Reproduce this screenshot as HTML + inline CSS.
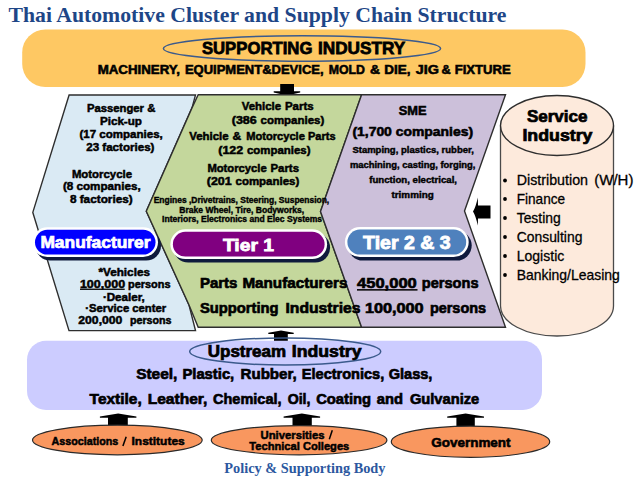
<!DOCTYPE html>
<html><head><meta charset="utf-8"><style>
html,body{margin:0;padding:0;background:#fff;width:640px;height:479px;overflow:hidden}
svg{display:block}
</style></head><body>
<svg width="640" height="479" viewBox="0 0 640 479">
<rect x="22.2" y="29.4" width="563.3" height="57.6" rx="23" ry="23" fill="#FEC863"/>
<ellipse cx="302" cy="48.5" rx="138.6" ry="12.75" fill="none" stroke="#3B5A8C" stroke-width="1.5"/>
<path d="M280.2,84 L294,84 L294,91.2 L300.2,91.2 L300.2,92.6 L286.95,95.5 L273.7,92.6 L273.7,91.2 L280.2,91.2 Z" fill="#000"/>
<polygon points="69.1,95 195.5,95 192.1,107.6 146.3,211.2 189,305 195.5,330.6 69,330.6 32.8,212.4" fill="#DAEAF4" stroke="#2e2e2e" stroke-width="1.4"/>
<polygon points="198.2,94.7 361.6,94.7 320.5,211.5 361.6,327.2 198.2,327.2 189,305 146.3,211.2 192.1,107.6" fill="#C4D79C" stroke="#2e2e2e" stroke-width="1.4"/>
<polygon points="361.6,94.7 505.5,94.7 464.5,211 505.5,327.2 361.6,327.2 320.5,211.5" fill="#CCC0DA" stroke="#2e2e2e" stroke-width="1.4"/>
<path d="M473,211.5 Q475.8,207 477.8,197.5 L478,205.4 L490.5,205.4 L490.5,218.4 L478,218.4 L477.8,225.6 Q475.8,216 473,211.5 Z" fill="#000"/>
<path d="M500.5,125.5 L500.5,306 A56.5,30 0 0 0 613.5,306 L613.5,125.5" fill="#FDEADC" stroke="#4a4a4a" stroke-width="1.3"/>
<ellipse cx="557" cy="125.5" rx="56.5" ry="30" fill="#FDEADC" stroke="#2e2e2e" stroke-width="1.4"/>
<circle cx="505" cy="180.5" r="1.9" fill="#000"/>
<circle cx="505" cy="199" r="1.9" fill="#000"/>
<circle cx="505" cy="218" r="1.9" fill="#000"/>
<circle cx="505" cy="237" r="1.9" fill="#000"/>
<circle cx="505" cy="256" r="1.9" fill="#000"/>
<circle cx="505" cy="275" r="1.9" fill="#000"/>
<rect x="35.5" y="230.8" width="125.5" height="29.69999999999999" rx="14.849999999999994" fill="#0F1A3C"/><rect x="32.5" y="227.3" width="125.5" height="29.69999999999999" rx="14.849999999999994" fill="#fff"/><rect x="35.0" y="229.8" width="120.5" height="24.69999999999999" rx="12.349999999999994" fill="#0000FF"/>
<rect x="173.4" y="232.8" width="156.70000000000002" height="29.80000000000001" rx="14.900000000000006" fill="#0F1A3C"/><rect x="170.4" y="229.3" width="156.70000000000002" height="29.80000000000001" rx="14.900000000000006" fill="#fff"/><rect x="172.9" y="231.8" width="151.70000000000002" height="24.80000000000001" rx="12.400000000000006" fill="#800080"/>
<rect x="347.9" y="230.5" width="123.80000000000001" height="30.100000000000023" rx="15.050000000000011" fill="#0F1A3C"/><rect x="344.9" y="227" width="123.80000000000001" height="30.100000000000023" rx="15.050000000000011" fill="#fff"/><rect x="347.4" y="229.5" width="118.80000000000001" height="25.100000000000023" rx="12.550000000000011" fill="#4F81BD"/>
<rect x="80" y="288.6" width="44.7" height="1.3" fill="#000"/>
<rect x="357" y="289.1" width="60.5" height="1.5" fill="#000"/>
<path d="M274,341 L287.8,341 L287.8,334.1 L293.7,334.1 L293.7,332.7 L281.0,330.5 L268.3,332.7 L268.3,334.1 L274,334.1 Z" fill="#000"/>
<rect x="27" y="340.7" width="515" height="69.2" rx="19" ry="19" fill="#CCCCFF"/>
<ellipse cx="285.2" cy="351.5" rx="95.5" ry="13.5" fill="none" stroke="#3B5A8C" stroke-width="1.5"/>
<path d="M108,425.5 L127.8,425.5 L127.8,417.8 L136.4,417.8 L136.4,416.4 L118.15,413.6 L99.9,416.4 L99.9,417.8 L108,417.8 Z" fill="#000"/>
<path d="M292.5,426 L311.8,426 L311.8,417.8 L320.1,417.8 L320.1,416.4 L301.85,413.6 L283.6,416.4 L283.6,417.8 L292.5,417.8 Z" fill="#000"/>
<path d="M456.4,427 L474.8,427 L474.8,417.8 L484,417.8 L484,416.4 L465.6,413.6 L447.2,416.4 L447.2,417.8 L456.4,417.8 Z" fill="#000"/>
<ellipse cx="117.35" cy="440" rx="84.85" ry="14.8" fill="#F9975F" stroke="#2a2a2a" stroke-width="1.2"/>
<ellipse cx="299.1" cy="440.2" rx="87.8" ry="14.6" fill="#F9975F" stroke="#2a2a2a" stroke-width="1.2"/>
<ellipse cx="470.5" cy="441.7" rx="79.2" ry="15.6" fill="#F9975F" stroke="#2a2a2a" stroke-width="1.2"/>
<text x="8.5" y="21.6" font-size="21.5" fill="#1E4687" font-weight="bold" font-family='"Liberation Serif", serif' textLength="497.90" lengthAdjust="spacingAndGlyphs">Thai Automotive Cluster and Supply Chain Structure</text>
<text x="201.9" y="54.3" font-size="16.9" fill="#000" stroke="#000" stroke-width="0.76" font-weight="bold" font-family='"Liberation Sans", sans-serif' textLength="110.50" lengthAdjust="spacingAndGlyphs">SUPPORTING</text>
<text x="318.0" y="54.3" font-size="16.9" fill="#000" stroke="#000" stroke-width="0.76" font-weight="bold" font-family='"Liberation Sans", sans-serif' textLength="87.20" lengthAdjust="spacingAndGlyphs">INDUSTRY</text>
<text x="97.65" y="73.6" font-size="12.2" fill="#000" stroke="#000" stroke-width="0.55" font-weight="bold" font-family='"Liberation Sans", sans-serif' textLength="82.25" lengthAdjust="spacingAndGlyphs">MACHINERY,</text>
<text x="184.9" y="73.6" font-size="12.2" fill="#000" stroke="#000" stroke-width="0.55" font-weight="bold" font-family='"Liberation Sans", sans-serif' textLength="138.70" lengthAdjust="spacingAndGlyphs">EQUIPMENT&amp;DEVICE,</text>
<text x="328.65" y="73.6" font-size="12.2" fill="#000" stroke="#000" stroke-width="0.55" font-weight="bold" font-family='"Liberation Sans", sans-serif' textLength="36.25" lengthAdjust="spacingAndGlyphs">MOLD</text>
<text x="369.9" y="73.6" font-size="12.2" fill="#000" stroke="#000" stroke-width="0.55" font-weight="bold" font-family='"Liberation Sans", sans-serif' textLength="10.00" lengthAdjust="spacingAndGlyphs">&amp;</text>
<text x="384.29999999999995" y="73.6" font-size="12.2" fill="#000" stroke="#000" stroke-width="0.55" font-weight="bold" font-family='"Liberation Sans", sans-serif' textLength="26.20" lengthAdjust="spacingAndGlyphs">DIE,</text>
<text x="415.7" y="73.6" font-size="12.2" fill="#000" stroke="#000" stroke-width="0.55" font-weight="bold" font-family='"Liberation Sans", sans-serif' textLength="23.20" lengthAdjust="spacingAndGlyphs">JIG</text>
<text x="441.5" y="73.6" font-size="12.2" fill="#000" stroke="#000" stroke-width="0.55" font-weight="bold" font-family='"Liberation Sans", sans-serif' textLength="9.20" lengthAdjust="spacingAndGlyphs">&amp;</text>
<text x="454.7" y="73.6" font-size="12.2" fill="#000" stroke="#000" stroke-width="0.55" font-weight="bold" font-family='"Liberation Sans", sans-serif' textLength="56.10" lengthAdjust="spacingAndGlyphs">FIXTURE</text>
<text x="86.9" y="112" font-size="11" fill="#000" stroke="#000" stroke-width="0.49" font-weight="bold" font-family='"Liberation Sans", sans-serif' textLength="68.40" lengthAdjust="spacingAndGlyphs">Passenger &amp;</text>
<text x="99.9" y="125.1" font-size="11" fill="#000" stroke="#000" stroke-width="0.49" font-weight="bold" font-family='"Liberation Sans", sans-serif' textLength="42.10" lengthAdjust="spacingAndGlyphs">Pick-up</text>
<text x="79.5" y="138.1" font-size="11" fill="#000" stroke="#000" stroke-width="0.49" font-weight="bold" font-family='"Liberation Sans", sans-serif' textLength="83.30" lengthAdjust="spacingAndGlyphs">(17 companies,</text>
<text x="86.2" y="150.6" font-size="11" fill="#000" stroke="#000" stroke-width="0.49" font-weight="bold" font-family='"Liberation Sans", sans-serif' textLength="68.30" lengthAdjust="spacingAndGlyphs">23 factories)</text>
<text x="71.9" y="177.7" font-size="11" fill="#000" stroke="#000" stroke-width="0.49" font-weight="bold" font-family='"Liberation Sans", sans-serif' textLength="60.10" lengthAdjust="spacingAndGlyphs">Motorcycle</text>
<text x="62.9" y="189.7" font-size="11" fill="#000" stroke="#000" stroke-width="0.49" font-weight="bold" font-family='"Liberation Sans", sans-serif' textLength="77.80" lengthAdjust="spacingAndGlyphs">(8 companies,</text>
<text x="69.9" y="202.8" font-size="11" fill="#000" stroke="#000" stroke-width="0.49" font-weight="bold" font-family='"Liberation Sans", sans-serif' textLength="62.80" lengthAdjust="spacingAndGlyphs">8 factories)</text>
<text x="98.5" y="275.8" font-size="10.6" fill="#000" stroke="#000" stroke-width="0.48" font-weight="bold" font-family='"Liberation Sans", sans-serif' textLength="51.40" lengthAdjust="spacingAndGlyphs">*Vehicles</text>
<text x="79.9" y="287.6" font-size="10.6" fill="#000" stroke="#000" stroke-width="0.48" font-weight="bold" font-family='"Liberation Sans", sans-serif' textLength="45.30" lengthAdjust="spacingAndGlyphs">100,000</text>
<text x="128.0" y="287.6" font-size="10.6" fill="#000" stroke="#000" stroke-width="0.48" font-weight="bold" font-family='"Liberation Sans", sans-serif' textLength="42.50" lengthAdjust="spacingAndGlyphs">persons</text>
<text x="102.9" y="300.6" font-size="10.6" fill="#000" stroke="#000" stroke-width="0.48" font-weight="bold" font-family='"Liberation Sans", sans-serif' textLength="41.90" lengthAdjust="spacingAndGlyphs">&#183;Dealer,</text>
<text x="85.30000000000001" y="312.4" font-size="10.6" fill="#000" stroke="#000" stroke-width="0.48" font-weight="bold" font-family='"Liberation Sans", sans-serif' textLength="80.80" lengthAdjust="spacingAndGlyphs">&#183;Service center</text>
<text x="78.30000000000001" y="324.2" font-size="10.6" fill="#000" stroke="#000" stroke-width="0.48" font-weight="bold" font-family='"Liberation Sans", sans-serif' textLength="44.10" lengthAdjust="spacingAndGlyphs">200,000</text>
<text x="129.9" y="324.2" font-size="10.6" fill="#000" stroke="#000" stroke-width="0.48" font-weight="bold" font-family='"Liberation Sans", sans-serif' textLength="41.70" lengthAdjust="spacingAndGlyphs">persons</text>
<text x="241.8" y="109.9" font-size="11.3" fill="#000" stroke="#000" stroke-width="0.51" font-weight="bold" font-family='"Liberation Sans", sans-serif' textLength="39.30" lengthAdjust="spacingAndGlyphs">Vehicle</text>
<text x="284.9" y="109.9" font-size="11.3" fill="#000" stroke="#000" stroke-width="0.51" font-weight="bold" font-family='"Liberation Sans", sans-serif' textLength="28.70" lengthAdjust="spacingAndGlyphs">Parts</text>
<text x="231.8" y="123.75" font-size="11.3" fill="#000" stroke="#000" stroke-width="0.51" font-weight="bold" font-family='"Liberation Sans", sans-serif' textLength="24.95" lengthAdjust="spacingAndGlyphs">(386</text>
<text x="260.5" y="123.75" font-size="11.3" fill="#000" stroke="#000" stroke-width="0.51" font-weight="bold" font-family='"Liberation Sans", sans-serif' textLength="63.75" lengthAdjust="spacingAndGlyphs">companies)</text>
<text x="189.3" y="140.3" font-size="11.3" fill="#000" stroke="#000" stroke-width="0.51" font-weight="bold" font-family='"Liberation Sans", sans-serif' textLength="39.30" lengthAdjust="spacingAndGlyphs">Vehicle</text>
<text x="232.4" y="140.3" font-size="11.3" fill="#000" stroke="#000" stroke-width="0.51" font-weight="bold" font-family='"Liberation Sans", sans-serif' textLength="8.70" lengthAdjust="spacingAndGlyphs">&amp;</text>
<text x="246.15" y="140.3" font-size="11.3" fill="#000" stroke="#000" stroke-width="0.51" font-weight="bold" font-family='"Liberation Sans", sans-serif' textLength="58.75" lengthAdjust="spacingAndGlyphs">Motorcycle</text>
<text x="308.0" y="140.3" font-size="11.3" fill="#000" stroke="#000" stroke-width="0.51" font-weight="bold" font-family='"Liberation Sans", sans-serif' textLength="27.50" lengthAdjust="spacingAndGlyphs">Parts</text>
<text x="218.3" y="153.75" font-size="11.3" fill="#000" stroke="#000" stroke-width="0.51" font-weight="bold" font-family='"Liberation Sans", sans-serif' textLength="24.95" lengthAdjust="spacingAndGlyphs">(122</text>
<text x="247.0" y="153.75" font-size="11.3" fill="#000" stroke="#000" stroke-width="0.51" font-weight="bold" font-family='"Liberation Sans", sans-serif' textLength="63.50" lengthAdjust="spacingAndGlyphs">companies)</text>
<text x="207.4" y="171.6" font-size="11.3" fill="#000" stroke="#000" stroke-width="0.51" font-weight="bold" font-family='"Liberation Sans", sans-serif' textLength="59.35" lengthAdjust="spacingAndGlyphs">Motorcycle</text>
<text x="270.5" y="171.6" font-size="11.3" fill="#000" stroke="#000" stroke-width="0.51" font-weight="bold" font-family='"Liberation Sans", sans-serif' textLength="28.50" lengthAdjust="spacingAndGlyphs">Parts</text>
<text x="206.8" y="185" font-size="11.3" fill="#000" stroke="#000" stroke-width="0.51" font-weight="bold" font-family='"Liberation Sans", sans-serif' textLength="24.95" lengthAdjust="spacingAndGlyphs">(201</text>
<text x="235.5" y="185" font-size="11.3" fill="#000" stroke="#000" stroke-width="0.51" font-weight="bold" font-family='"Liberation Sans", sans-serif' textLength="63.75" lengthAdjust="spacingAndGlyphs">companies)</text>
<text x="153.65" y="202.5" font-size="8.2" fill="#000" stroke="#000" stroke-width="0.37" font-weight="bold" font-family='"Liberation Sans", sans-serif' textLength="175.60" lengthAdjust="spacingAndGlyphs">Engines ,Drivetrains, Steering, Suspension,</text>
<text x="179.3" y="212.5" font-size="8.2" fill="#000" stroke="#000" stroke-width="0.37" font-weight="bold" font-family='"Liberation Sans", sans-serif' textLength="124.95" lengthAdjust="spacingAndGlyphs">Brake Wheel, Tire, Bodyworks,</text>
<text x="162.1" y="222.2" font-size="8.2" fill="#000" stroke="#000" stroke-width="0.37" font-weight="bold" font-family='"Liberation Sans", sans-serif' textLength="160.00" lengthAdjust="spacingAndGlyphs">Interiors, Electronics and Elec Systems</text>
<text x="398.7" y="114.5" font-size="12.2" fill="#000" stroke="#000" stroke-width="0.55" font-weight="bold" font-family='"Liberation Sans", sans-serif' textLength="27.80" lengthAdjust="spacingAndGlyphs">SME</text>
<text x="352.4" y="135.8" font-size="12.2" fill="#000" stroke="#000" stroke-width="0.55" font-weight="bold" font-family='"Liberation Sans", sans-serif' textLength="120.70" lengthAdjust="spacingAndGlyphs">(1,700 companies)</text>
<text x="352.4" y="152.7" font-size="9.5" fill="#000" stroke="#000" stroke-width="0.43" font-weight="bold" font-family='"Liberation Sans", sans-serif' textLength="121.40" lengthAdjust="spacingAndGlyphs">Stamping, plastics, rubber,</text>
<text x="349.9" y="167.6" font-size="9.5" fill="#000" stroke="#000" stroke-width="0.43" font-weight="bold" font-family='"Liberation Sans", sans-serif' textLength="125.60" lengthAdjust="spacingAndGlyphs">machining, casting, forging,</text>
<text x="369.2" y="182.6" font-size="9.5" fill="#000" stroke="#000" stroke-width="0.43" font-weight="bold" font-family='"Liberation Sans", sans-serif' textLength="87.80" lengthAdjust="spacingAndGlyphs">function, electrical,</text>
<text x="391.5" y="197.6" font-size="9.5" fill="#000" stroke="#000" stroke-width="0.43" font-weight="bold" font-family='"Liberation Sans", sans-serif' textLength="42.20" lengthAdjust="spacingAndGlyphs">trimming</text>
<text x="40.4" y="248" font-size="16" fill="#fff" stroke="#fff" stroke-width="0.72" font-weight="bold" font-family='"Liberation Sans", sans-serif' textLength="110.10" lengthAdjust="spacingAndGlyphs">Manufacturer</text>
<text x="222.9" y="250.6" font-size="16.8" fill="#fff" stroke="#fff" stroke-width="0.76" font-weight="bold" font-family='"Liberation Sans", sans-serif' textLength="51.10" lengthAdjust="spacingAndGlyphs">Tier 1</text>
<text x="363.09999999999997" y="249" font-size="18" fill="#fff" stroke="#fff" stroke-width="0.81" font-weight="bold" font-family='"Liberation Sans", sans-serif' textLength="87.40" lengthAdjust="spacingAndGlyphs">Tier 2 &amp; 3</text>
<text x="199.9" y="287.7" font-size="14.5" fill="#000" stroke="#000" stroke-width="0.65" font-weight="bold" font-family='"Liberation Sans", sans-serif' textLength="37.50" lengthAdjust="spacingAndGlyphs">Parts</text>
<text x="242.4" y="287.7" font-size="14.5" fill="#000" stroke="#000" stroke-width="0.65" font-weight="bold" font-family='"Liberation Sans", sans-serif' textLength="105.00" lengthAdjust="spacingAndGlyphs">Manufacturers</text>
<text x="357.09999999999997" y="287.7" font-size="14.5" fill="#000" stroke="#000" stroke-width="0.65" font-weight="bold" font-family='"Liberation Sans", sans-serif' textLength="59.65" lengthAdjust="spacingAndGlyphs">450,000</text>
<text x="421.79999999999995" y="287.7" font-size="14.5" fill="#000" stroke="#000" stroke-width="0.65" font-weight="bold" font-family='"Liberation Sans", sans-serif' textLength="56.70" lengthAdjust="spacingAndGlyphs">persons</text>
<text x="199.9" y="313.0" font-size="14.5" fill="#000" stroke="#000" stroke-width="0.65" font-weight="bold" font-family='"Liberation Sans", sans-serif' textLength="78.70" lengthAdjust="spacingAndGlyphs">Supporting</text>
<text x="285.5" y="313.0" font-size="14.5" fill="#000" stroke="#000" stroke-width="0.65" font-weight="bold" font-family='"Liberation Sans", sans-serif' textLength="75.00" lengthAdjust="spacingAndGlyphs">Industries</text>
<text x="364.9" y="313.0" font-size="14.5" fill="#000" stroke="#000" stroke-width="0.65" font-weight="bold" font-family='"Liberation Sans", sans-serif' textLength="58.70" lengthAdjust="spacingAndGlyphs">100,000</text>
<text x="429.9" y="313.0" font-size="14.5" fill="#000" stroke="#000" stroke-width="0.65" font-weight="bold" font-family='"Liberation Sans", sans-serif' textLength="56.20" lengthAdjust="spacingAndGlyphs">persons</text>
<text x="526.9" y="121.5" font-size="16" fill="#000" stroke="#000" stroke-width="0.72" font-weight="bold" font-family='"Liberation Sans", sans-serif' textLength="60.60" lengthAdjust="spacingAndGlyphs">Service</text>
<text x="522.4" y="141.1" font-size="16" fill="#000" stroke="#000" stroke-width="0.72" font-weight="bold" font-family='"Liberation Sans", sans-serif' textLength="70.10" lengthAdjust="spacingAndGlyphs">Industry</text>
<text x="594.3" y="184.9" font-size="14.2" fill="#000" stroke="#000" stroke-width="0.28" font-weight="normal" font-family='"Liberation Sans", sans-serif' textLength="39.10" lengthAdjust="spacingAndGlyphs">(W/H)</text>
<text x="516.6999999999999" y="184.9" font-size="14.2" fill="#000" stroke="#000" stroke-width="0.28" font-weight="normal" font-family='"Liberation Sans", sans-serif' textLength="71.30" lengthAdjust="spacingAndGlyphs">Distribution</text>
<text x="516.6999999999999" y="204.2" font-size="14.2" fill="#000" stroke="#000" stroke-width="0.28" font-weight="normal" font-family='"Liberation Sans", sans-serif' textLength="48.40" lengthAdjust="spacingAndGlyphs">Finance</text>
<text x="516.6999999999999" y="223.2" font-size="14.2" fill="#000" stroke="#000" stroke-width="0.28" font-weight="normal" font-family='"Liberation Sans", sans-serif' textLength="44.00" lengthAdjust="spacingAndGlyphs">Testing</text>
<text x="516.6999999999999" y="242.2" font-size="14.2" fill="#000" stroke="#000" stroke-width="0.28" font-weight="normal" font-family='"Liberation Sans", sans-serif' textLength="65.70" lengthAdjust="spacingAndGlyphs">Consulting</text>
<text x="516.6999999999999" y="261.2" font-size="14.2" fill="#000" stroke="#000" stroke-width="0.28" font-weight="normal" font-family='"Liberation Sans", sans-serif' textLength="47.60" lengthAdjust="spacingAndGlyphs">Logistic</text>
<text x="516.6999999999999" y="280.2" font-size="14.2" fill="#000" stroke="#000" stroke-width="0.28" font-weight="normal" font-family='"Liberation Sans", sans-serif' textLength="103.20" lengthAdjust="spacingAndGlyphs">Banking/Leasing</text>
<text x="207.8" y="356.7" font-size="15.6" fill="#000" stroke="#000" stroke-width="0.70" font-weight="bold" font-family='"Liberation Sans", sans-serif' textLength="78.30" lengthAdjust="spacingAndGlyphs">Upstream</text>
<text x="291.79999999999995" y="356.7" font-size="15.6" fill="#000" stroke="#000" stroke-width="0.70" font-weight="bold" font-family='"Liberation Sans", sans-serif' textLength="69.70" lengthAdjust="spacingAndGlyphs">Industry</text>
<text x="136.15" y="378.9" font-size="14.7" fill="#000" stroke="#000" stroke-width="0.66" font-weight="bold" font-family='"Liberation Sans", sans-serif' textLength="41.25" lengthAdjust="spacingAndGlyphs">Steel,</text>
<text x="182.4" y="378.9" font-size="14.7" fill="#000" stroke="#000" stroke-width="0.66" font-weight="bold" font-family='"Liberation Sans", sans-serif' textLength="51.85" lengthAdjust="spacingAndGlyphs">Plastic,</text>
<text x="240.5" y="378.9" font-size="14.7" fill="#000" stroke="#000" stroke-width="0.66" font-weight="bold" font-family='"Liberation Sans", sans-serif' textLength="56.25" lengthAdjust="spacingAndGlyphs">Rubber,</text>
<text x="301.79999999999995" y="378.9" font-size="14.7" fill="#000" stroke="#000" stroke-width="0.66" font-weight="bold" font-family='"Liberation Sans", sans-serif' textLength="82.45" lengthAdjust="spacingAndGlyphs">Electronics,</text>
<text x="388.65" y="378.9" font-size="14.7" fill="#000" stroke="#000" stroke-width="0.66" font-weight="bold" font-family='"Liberation Sans", sans-serif' textLength="43.75" lengthAdjust="spacingAndGlyphs">Glass,</text>
<text x="89.60000000000001" y="403.75" font-size="14.5" fill="#000" stroke="#000" stroke-width="0.65" font-weight="bold" font-family='"Liberation Sans", sans-serif' textLength="52.15" lengthAdjust="spacingAndGlyphs">Textile,</text>
<text x="147.65" y="403.75" font-size="14.5" fill="#000" stroke="#000" stroke-width="0.65" font-weight="bold" font-family='"Liberation Sans", sans-serif' textLength="59.75" lengthAdjust="spacingAndGlyphs">Leather,</text>
<text x="213.0" y="403.75" font-size="14.5" fill="#000" stroke="#000" stroke-width="0.65" font-weight="bold" font-family='"Liberation Sans", sans-serif' textLength="68.50" lengthAdjust="spacingAndGlyphs">Chemical,</text>
<text x="287.65" y="403.75" font-size="14.5" fill="#000" stroke="#000" stroke-width="0.65" font-weight="bold" font-family='"Liberation Sans", sans-serif' textLength="22.85" lengthAdjust="spacingAndGlyphs">Oil,</text>
<text x="316.15" y="403.75" font-size="14.5" fill="#000" stroke="#000" stroke-width="0.65" font-weight="bold" font-family='"Liberation Sans", sans-serif' textLength="54.95" lengthAdjust="spacingAndGlyphs">Coating</text>
<text x="376.79999999999995" y="403.75" font-size="14.5" fill="#000" stroke="#000" stroke-width="0.65" font-weight="bold" font-family='"Liberation Sans", sans-serif' textLength="26.20" lengthAdjust="spacingAndGlyphs">and</text>
<text x="409.9" y="403.75" font-size="14.5" fill="#000" stroke="#000" stroke-width="0.65" font-weight="bold" font-family='"Liberation Sans", sans-serif' textLength="69.35" lengthAdjust="spacingAndGlyphs">Gulvanize</text>
<text x="51.5" y="444.7" font-size="11.8" fill="#000" stroke="#000" stroke-width="0.53" font-weight="bold" font-family='"Liberation Sans", sans-serif' textLength="66.80" lengthAdjust="spacingAndGlyphs">Associations</text>
<text x="131.5" y="444.7" font-size="11.8" fill="#000" stroke="#000" stroke-width="0.53" font-weight="bold" font-family='"Liberation Sans", sans-serif' textLength="53.20" lengthAdjust="spacingAndGlyphs">Institutes</text>
<text x="260.5" y="438.6" font-size="11" fill="#000" stroke="#000" stroke-width="0.49" font-weight="bold" font-family='"Liberation Sans", sans-serif' textLength="64.00" lengthAdjust="spacingAndGlyphs">Universities</text>
<text x="249.3" y="449.6" font-size="11" fill="#000" stroke="#000" stroke-width="0.49" font-weight="bold" font-family='"Liberation Sans", sans-serif' textLength="100.00" lengthAdjust="spacingAndGlyphs">Technical Colleges</text>
<text x="431.2" y="446.7" font-size="13.6" fill="#000" stroke="#000" stroke-width="0.61" font-weight="bold" font-family='"Liberation Sans", sans-serif' textLength="79.40" lengthAdjust="spacingAndGlyphs">Government</text>
<text x="224.3" y="472.7" font-size="14.2" fill="#2C58A0" font-weight="bold" font-family='"Liberation Serif", serif' textLength="161.20" lengthAdjust="spacingAndGlyphs">Policy &amp; Supporting Body</text>
<line x1="122.9" y1="446" x2="126.2" y2="436.8" stroke="#000" stroke-width="1.5"/>
<line x1="329.3" y1="439.2" x2="332.3" y2="430.3" stroke="#000" stroke-width="1.5"/>
</svg>
</body></html>
